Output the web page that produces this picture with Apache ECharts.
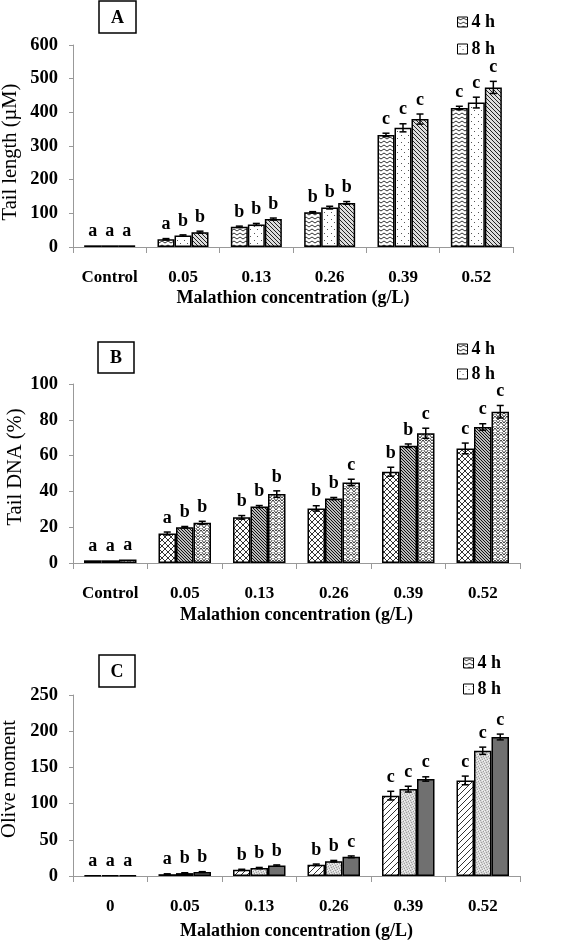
<!DOCTYPE html>
<html>
<head>
<meta charset="utf-8">
<script src="https://cdn.jsdelivr.net/npm/echarts@6/dist/echarts.min.js"></script>
<style>
html,body{margin:0;padding:0;background:#fff;}
#chart{width:563px;height:941px;}
</style>
</head>
<body>
<div id="chart"></div>
<script>
// ---------- data ----------
const categoriesAB = ['Control', '0.05', '0.13', '0.26', '0.39', '0.52'];
const categoriesC = ['0', '0.05', '0.13', '0.26', '0.39', '0.52'];
const seriesNames = ['4 h', '8 h', '24 h'];

// Panel A: Tail length (µM)
const tailLen4h  = [5, 23, 60, 103, 333, 413];
const tailLen8h  = [5, 34, 67, 117, 354, 429];
const tailLen24h = [5, 44, 83, 131, 380, 474];
const tailLenErr4h  = [0, 2, 2, 2, 5, 5];
const tailLenErr8h  = [0, 2, 3, 4, 12, 16];
const tailLenErr24h = [0, 3, 3, 4, 15, 18];
const tailLenLet4h  = ['a', 'a', 'b', 'b', 'c', 'c'];
const tailLenLet8h  = ['a', 'b', 'b', 'b', 'c', 'c'];
const tailLenLet24h = ['a', 'b', 'b', 'b', 'c', 'c'];
const tailLenTicks = [0, 600, 100];

// Panel B: Tail DNA (%)
const tailDna4h  = [1.5, 16.5, 25.5, 30.5, 51, 64];
const tailDna8h  = [1.5, 20, 31.5, 36, 65.5, 76];
const tailDna24h = [2, 22.5, 38.5, 45, 72.5, 84.5];
const tailDnaErr4h  = [0, 0.8, 1, 1.5, 2.5, 3];
const tailDnaErr8h  = [0, 0.4, 0.6, 0.6, 1, 1.8];
const tailDnaErr24h = [0, 0.8, 1.8, 1.8, 2.8, 3.5];
const tailDnaLet4h  = ['a', 'a', 'b', 'b', 'b', 'c'];
const tailDnaLet8h  = ['a', 'b', 'b', 'b', 'b', 'c'];
const tailDnaLet24h = ['a', 'b', 'b', 'c', 'c', 'c'];
const tailDnaTicks = [0, 100, 20];

// Panel C: Olive moment
const olive4h  = [1, 2.5, 8.5, 15.5, 111, 132];
const olive8h  = [1, 4, 11, 20.5, 120, 173];
const olive24h = [1, 5.5, 14.5, 26.5, 134, 192];
const oliveErr4h  = [0, 0.5, 0.8, 1, 6, 6];
const oliveErr8h  = [0, 0.5, 0.8, 1, 4, 5];
const oliveErr24h = [0, 0.5, 0.8, 1.2, 3, 4];
const oliveLet4h  = ['a', 'a', 'b', 'b', 'c', 'c'];
const oliveLet8h  = ['a', 'b', 'b', 'b', 'c', 'c'];
const oliveLet24h = ['a', 'b', 'b', 'c', 'c', 'c'];
const oliveTicks = [0, 250, 50];

const xTitle = 'Malathion concentration (g/L)';
const yTitles = ['Tail length (\u00b5M)', 'Tail DNA (%)', 'Olive moment'];
const panelLabels = ['A', 'B', 'C'];

// ---------- patterns ----------
function pat(w, h, draw, bg) {
  const c = document.createElement('canvas');
  c.width = w; c.height = h;
  const ctx = c.getContext('2d');
  ctx.fillStyle = bg || '#fff';
  ctx.fillRect(0, 0, w, h);
  draw(ctx);
  return { image: c, repeat: 'repeat' };
}
const patWave = pat(6, 4, ctx => { ctx.strokeStyle = '#333'; ctx.lineWidth = 1; ctx.beginPath(); ctx.moveTo(0, 1); ctx.lineTo(3, 3); ctx.lineTo(6, 1); ctx.stroke(); });
const patDots = pat(7, 7, ctx => { ctx.fillStyle = '#555'; ctx.fillRect(2, 2, 1, 1); ctx.fillRect(5, 5, 1, 1); });
const patBack = pat(4, 4, ctx => { ctx.strokeStyle = '#222'; ctx.lineWidth = 1; ctx.beginPath(); ctx.moveTo(-1, -1); ctx.lineTo(5, 5); ctx.moveTo(-1, 3); ctx.lineTo(1, 5); ctx.moveTo(3, -1); ctx.lineTo(5, 1); ctx.stroke(); }, '#ddd');
const patCross = pat(6, 6, ctx => { ctx.strokeStyle = '#333'; ctx.lineWidth = 1; ctx.beginPath(); ctx.moveTo(0, 0); ctx.lineTo(6, 6); ctx.moveTo(6, 0); ctx.lineTo(0, 6); ctx.stroke(); });
const patDense = pat(3, 3, ctx => { ctx.strokeStyle = '#111'; ctx.lineWidth = 1; ctx.beginPath(); ctx.moveTo(-1, -1); ctx.lineTo(4, 4); ctx.stroke(); }, '#bbb');
const patZig = pat(6, 6, ctx => { ctx.strokeStyle = '#333'; ctx.lineWidth = 1; ctx.beginPath(); ctx.moveTo(0, 6); ctx.lineTo(3, 2); ctx.lineTo(6, 6); ctx.moveTo(0, 3); ctx.lineTo(3, -1); ctx.lineTo(6, 3); ctx.stroke(); });
const patFwd = pat(6, 6, ctx => { ctx.strokeStyle = '#333'; ctx.lineWidth = 1; ctx.beginPath(); ctx.moveTo(-1, 7); ctx.lineTo(7, -1); ctx.stroke(); });
const patGrey = pat(5, 5, ctx => {
  ctx.fillStyle = '#a0a0a0';
  [[0, 0], [3, 1], [1, 2], [4, 3], [2, 4]].forEach(d => ctx.fillRect(d[0], d[1], 1, 1));
  ctx.fillStyle = '#f4f4f4';
  [[2, 0], [0, 3], [4, 1], [3, 4]].forEach(d => ctx.fillRect(d[0], d[1], 1, 1));
}, '#d6d6d6');
const solidGrey = '#707070';

// ---------- layout ----------
const FONT = '"Liberation Serif", "Times New Roman", serif';
const grids = [
  { left: 73, right: 50, top: 45, height: 202 },
  { left: 73, right: 43, top: 384, height: 179 },
  { left: 73, right: 43, top: 695, height: 182 }
];
const barWidths = [17, 17.5, 17.5];
const nameGapsX = [42, 43, 46];
const yTitlePos = [[11, 152], [16, 467], [10, 779]];
const legendPos = [
  { left: 452, top: 8, gap: 9 },
  { left: 452, top: 335, gap: 7 },
  { left: 458, top: 649, gap: 8 }
];
const boxPos = [
  { x: 99, y: 1, w: 37, h: 32 },
  { x: 98, y: 342, w: 36, h: 31 },
  { x: 99, y: 655, w: 36, h: 32 }
];

const panels = [
  { cats: categoriesAB, ticks: tailLenTicks, vals: [tailLen4h, tailLen8h, tailLen24h], errs: [tailLenErr4h, tailLenErr8h, tailLenErr24h], lets: [tailLenLet4h, tailLenLet8h, tailLenLet24h], fills: [patWave, patDots, patBack] },
  { cats: categoriesAB, ticks: tailDnaTicks, vals: [tailDna4h, tailDna8h, tailDna24h], errs: [tailDnaErr4h, tailDnaErr8h, tailDnaErr24h], lets: [tailDnaLet4h, tailDnaLet8h, tailDnaLet24h], fills: [patCross, patDense, patZig] },
  { cats: categoriesC, ticks: oliveTicks, vals: [olive4h, olive8h, olive24h], errs: [oliveErr4h, oliveErr8h, oliveErr24h], lets: [oliveLet4h, oliveLet8h, oliveLet24h], fills: [patFwd, patGrey, solidGrey] }
];

const xAxes = [], yAxes = [], series = [], legends = [], graphics = [];

panels.forEach((p, g) => {
  const BW = barWidths[g];
  xAxes.push({
    type: 'category', gridIndex: g, data: p.cats,
    name: xTitle, nameLocation: 'middle', nameGap: nameGapsX[g],
    nameTextStyle: { fontFamily: FONT, fontSize: 18, fontWeight: 'bold', color: '#000' },
    axisLine: { lineStyle: { color: '#999', width: 1 } },
    axisTick: { show: true, length: 6, lineStyle: { color: '#999' } },
    axisLabel: { interval: 0, margin: 22, fontFamily: FONT, fontWeight: 'bold', fontSize: 17, color: '#000' }
  });
  yAxes.push({
    type: 'value', gridIndex: g, min: p.ticks[0], max: p.ticks[1], interval: p.ticks[2],
    axisLine: { show: true, lineStyle: { color: '#999', width: 1 } },
    axisTick: { show: true, length: 4, lineStyle: { color: '#999' } },
    splitLine: { show: false },
    axisLabel: { margin: 15, fontFamily: FONT, fontWeight: 'bold', fontSize: 18.5, color: '#000' }
  });
  p.vals.forEach((vals, s) => {
    series.push({
      type: 'bar', name: seriesNames[s], xAxisIndex: g, yAxisIndex: g,
      barWidth: BW, barGap: '0%', data: vals,
      itemStyle: { color: p.fills[s], borderColor: '#000', borderWidth: 1.5 },
      emphasis: { disabled: true }, animation: false
    });
  });
  p.vals.forEach((vals, s) => {
    const errs = p.errs[s], lets = p.lets[s];
    series.push({
      type: 'custom', xAxisIndex: g, yAxisIndex: g, z: 10, animation: false, silent: true,
      data: vals.map((v, i) => [i, v, errs[i]]),
      renderItem: (params, api) => {
        const i = api.value(0), v = api.value(1), e = api.value(2);
        const cx = api.coord([i, v])[0] + (s - 1) * BW;
        const yTop = api.coord([i, v + e])[1];
        const yBot = api.coord([i, Math.max(0, v - e)])[1];
        const st = { stroke: '#000', lineWidth: 1.5 };
        const children = [];
        if (e > 0) {
          children.push({ type: 'line', shape: { x1: cx, y1: yTop, x2: cx, y2: yBot }, style: st });
          children.push({ type: 'line', shape: { x1: cx - 3.5, y1: yTop, x2: cx + 3.5, y2: yTop }, style: st });
          children.push({ type: 'line', shape: { x1: cx - 3.5, y1: yBot, x2: cx + 3.5, y2: yBot }, style: st });
        }
        children.push({ type: 'text', style: { text: lets[params.dataIndex], x: cx, y: yTop - 5, align: 'center', verticalAlign: 'bottom', font: 'bold 18px ' + FONT, fill: '#000' } });
        return { type: 'group', children };
      }
    });
  });
  legends.push({
    data: [seriesNames[0], seriesNames[1]],
    orient: 'vertical', left: legendPos[g].left, top: legendPos[g].top,
    itemWidth: 10, itemHeight: 10, itemGap: legendPos[g].gap, icon: 'rect',
    selectedMode: false,
    textStyle: { fontFamily: FONT, fontWeight: 'bold', fontSize: 18, color: '#000', padding: [0, 0, 0, -1] },
    itemStyle: { borderColor: '#000', borderWidth: 1 }
  });
  const b = boxPos[g];
  graphics.push({
    type: 'rect', shape: { x: b.x, y: b.y, width: b.w, height: b.h },
    style: { fill: '#fff', stroke: '#000', lineWidth: 1.5 }
  });
  graphics.push({
    type: 'text', x: b.x + b.w / 2, y: b.y + b.h / 2 + 1,
    style: { text: panelLabels[g], font: 'bold 18px ' + FONT, fill: '#000', align: 'center', verticalAlign: 'middle' }
  });
  graphics.push({
    type: 'text', x: yTitlePos[g][0], y: yTitlePos[g][1], rotation: Math.PI / 2,
    style: { text: yTitles[g], font: '20.5px ' + FONT, fill: '#000', align: 'center', verticalAlign: 'middle' }
  });
});

const chart = echarts.init(document.getElementById('chart'), null, { renderer: 'canvas' });
chart.setOption({
  backgroundColor: '#fff',
  animation: false,
  grid: grids,
  xAxis: xAxes,
  yAxis: yAxes,
  legend: legends,
  series: series,
  graphic: graphics
});
</script>
</body>
</html>
